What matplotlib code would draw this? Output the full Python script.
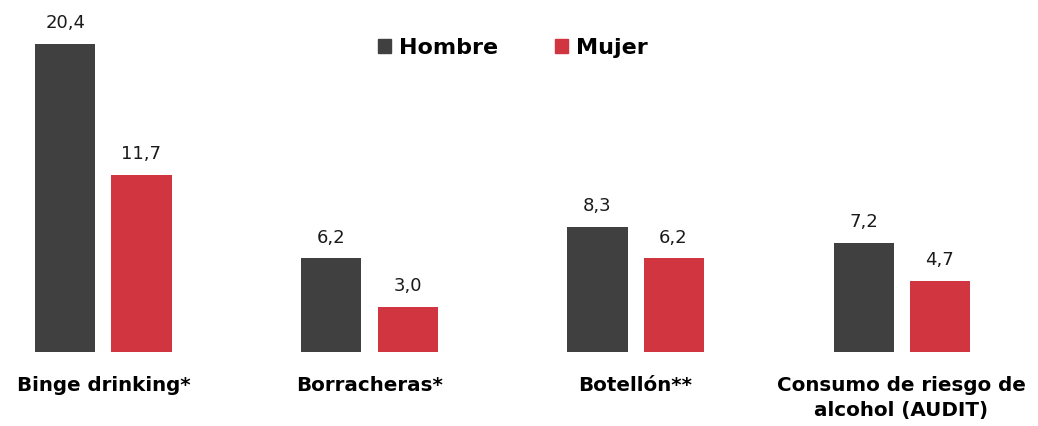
import matplotlib
matplotlib.use('Agg')
import matplotlib.pyplot as plt
from matplotlib.patches import Patch

# data
categorias = ['Binge drinking*', 'Borracheras*', 'Botellón**', 'Consumo de riesgo de\nalcohol (AUDIT)']
hombre = [20.4, 6.2, 8.3, 7.2]
mujer = [11.7, 3.0, 6.2, 4.7]
series = ['Hombre', 'Mujer']
colores = ['#404040', '#D13540']

plt.rcParams['font.family'] = ['DejaVu Sans']

fig = plt.figure(figsize=(10.38, 4.26), dpi=100)
ax = fig.add_axes([0, 0.1737, 1, 0.8263])

x = list(range(len(categorias)))
w = 0.2256
off = 0.1429
b1 = ax.bar([i - off for i in x], hombre, w, color=colores[0], label=series[0])
b2 = ax.bar([i + off for i in x], mujer, w, color=colores[1], label=series[1])

for bars, vals in [(b1, hombre), (b2, mujer)]:
    for b, v in zip(bars, vals):
        ax.annotate(f'{v:.1f}'.replace('.', ','), (b.get_x() + b.get_width() / 2, v),
                    xytext=(0, 8.5), textcoords='offset points', ha='center', va='bottom',
                    fontsize=13, color='#1a1a1a')

ax.set_xlim(-0.389, 3.513)
ax.set_ylim(0, 23.3)
ax.set_xticks(x)
ax.set_xticklabels(categorias, fontsize=14.3, fontweight='bold', linespacing=1.45)
ax.tick_params(axis='x', length=0, pad=17)
ax.set_yticks([])
for s in ax.spines.values():
    s.set_visible(False)

handles = [Patch(color=c, label=s) for c, s in zip(colores, series)]
fig.legend(handles=handles, loc='center', bbox_to_anchor=(0.494, 0.887), ncol=2, frameon=False,
           prop={'size': 16, 'weight': 'bold'}, handlelength=0.6, handleheight=0.6,
           handletextpad=0.35, columnspacing=2.57)

plt.savefig('out.png', dpi=100)
